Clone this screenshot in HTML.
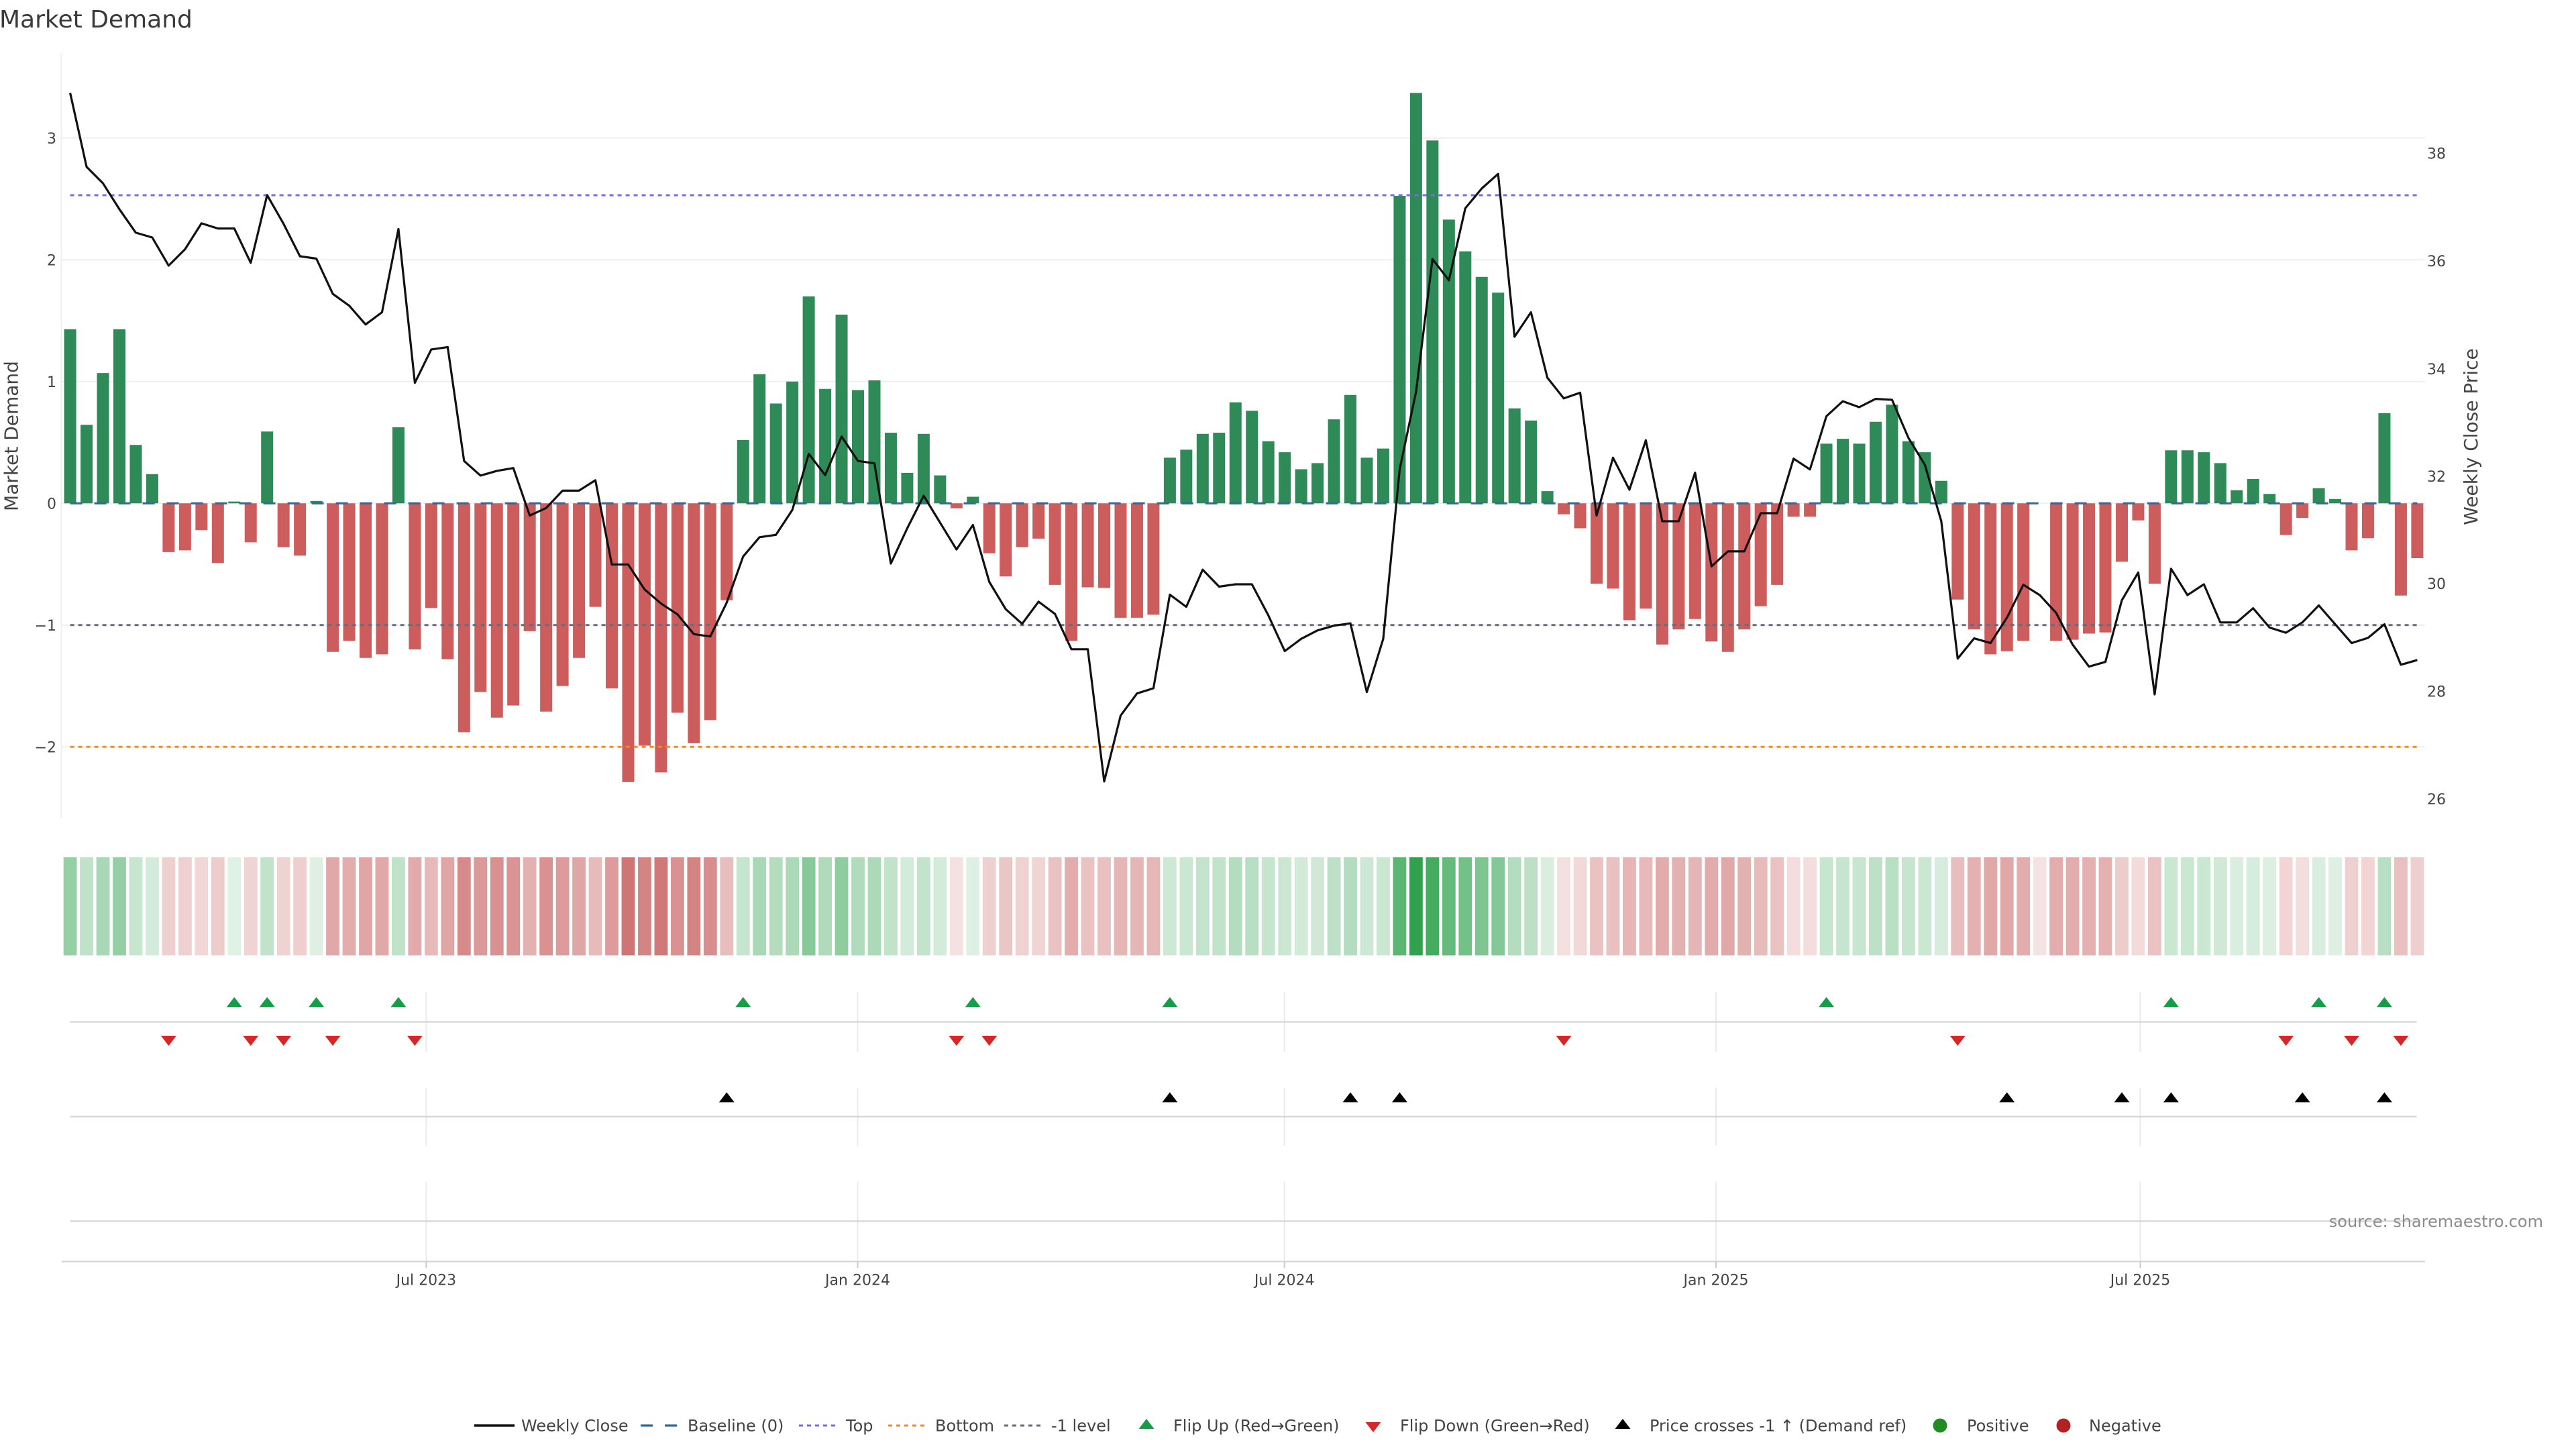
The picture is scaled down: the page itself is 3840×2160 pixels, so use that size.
<!DOCTYPE html>
<html>
<head>
<meta charset="utf-8">
<style>
html,body{margin:0;padding:0;background:#fff;}
body{width:3840px;height:2160px;overflow:hidden;position:relative;}
svg{position:absolute;left:0;top:0;}
text{font-family:"DejaVu Sans","Liberation Sans",sans-serif;fill:#444;}
.g{fill:#30a24e;}
.r{fill:#be4242;}
</style>
</head>
<body>
<svg width="3840" height="2160" viewBox="0 0 3840 2160" xmlns="http://www.w3.org/2000/svg">
<rect x="0" y="0" width="3840" height="2160" fill="#fff"/>

<!-- Title -->
<text x="-1" y="41" font-size="36" style="fill:#3a3a3a">Market Demand</text>

<!-- main plot gridlines -->
<g stroke="#edf0f3" stroke-width="2">
<line x1="92" y1="205.8" x2="3615" y2="205.8"/>
<line x1="92" y1="387.3" x2="3615" y2="387.3"/>
<line x1="92" y1="568.8" x2="3615" y2="568.8"/>
<line x1="92" y1="750.3" x2="3615" y2="750.3"/>
<line x1="92" y1="931.8" x2="3615" y2="931.8"/>
<line x1="92" y1="1113.3" x2="3615" y2="1113.3"/>
</g>
<line x1="91.5" y1="79" x2="91.5" y2="1220" stroke="#eceff2" stroke-width="2"/>

<!-- bars -->
<g transform="translate(104.6,0) scale(24.467,1)">
<path fill="#2e8b57" d="M-.368,750.3V490.8h.736V750.3zM.632,750.3V633.2h.736V750.3zM1.632,750.3V556.1h.736V750.3zM2.632,750.3V490.8h.736V750.3zM3.632,750.3V663.2h.736V750.3zM4.632,750.3V706.7h.736V750.3zM9.632,750.3V747.6h.736V750.3zM11.632,750.3V643.2h.736V750.3zM14.632,750.3V746.7h.736V750.3zM19.632,750.3V636.9h.736V750.3zM40.632,750.3V655.9h.736V750.3zM41.632,750.3V557.9h.736V750.3zM42.632,750.3V601.5h.736V750.3zM43.632,750.3V568.8h.736V750.3zM44.632,750.3V441.7h.736V750.3zM45.632,750.3V579.7h.736V750.3zM46.632,750.3V469h.736V750.3zM47.632,750.3V581.5h.736V750.3zM48.632,750.3V567h.736V750.3zM49.632,750.3V645h.736V750.3zM50.632,750.3V704.9h.736V750.3zM51.632,750.3V646.8h.736V750.3zM52.632,750.3V708.6h.736V750.3zM54.632,750.3V740.5h.736V750.3zM66.632,750.3V682.2h.736V750.3zM67.632,750.3V670.4h.736V750.3zM68.632,750.3V646.8h.736V750.3zM69.632,750.3V645h.736V750.3zM70.632,750.3V599.7h.736V750.3zM71.632,750.3V612.4h.736V750.3zM72.632,750.3V657.7h.736V750.3zM73.632,750.3V674.1h.736V750.3zM74.632,750.3V699.5h.736V750.3zM75.632,750.3V690.4h.736V750.3zM76.632,750.3V625.1h.736V750.3zM77.632,750.3V588.8h.736V750.3zM78.632,750.3V682.2h.736V750.3zM79.632,750.3V668.6h.736V750.3zM80.632,750.3V292h.736V750.3zM81.632,750.3V138.6h.736V750.3zM82.632,750.3V209.4h.736V750.3zM83.632,750.3V327.4h.736V750.3zM84.632,750.3V374.6h.736V750.3zM85.632,750.3V412.7h.736V750.3zM86.632,750.3V436.3h.736V750.3zM87.632,750.3V608.7h.736V750.3zM88.632,750.3V626.9h.736V750.3zM89.632,750.3V732.1h.736V750.3zM106.632,750.3V661.4h.736V750.3zM107.632,750.3V654.1h.736V750.3zM108.632,750.3V661.4h.736V750.3zM109.632,750.3V628.7h.736V750.3zM110.632,750.3V603.3h.736V750.3zM111.632,750.3V657.7h.736V750.3zM112.632,750.3V674.1h.736V750.3zM113.632,750.3V716.7h.736V750.3zM127.632,750.3V671.2h.736V750.3zM128.632,750.3V671.2h.736V750.3zM129.632,750.3V674.1h.736V750.3zM130.632,750.3V690.4h.736V750.3zM131.632,750.3V730.7h.736V750.3zM132.632,750.3V714h.736V750.3zM133.632,750.3V736.3h.736V750.3zM136.632,750.3V727.8h.736V750.3zM137.632,750.3V743.9h.736V750.3zM140.632,750.3V616h.736V750.3z"/>
<path fill="#cd5c5c" d="M5.632,750.3V822.9h.736V750.3zM6.632,750.3V820.4h.736V750.3zM7.632,750.3V790.2h.736V750.3zM8.632,750.3V839.2h.736V750.3zM10.632,750.3V808.4h.736V750.3zM12.632,750.3V815.6h.736V750.3zM13.632,750.3V828.3h.736V750.3zM15.632,750.3V971.7h.736V750.3zM16.632,750.3V955.4h.736V750.3zM17.632,750.3V980.8h.736V750.3zM18.632,750.3V975.4h.736V750.3zM20.632,750.3V968.1h.736V750.3zM21.632,750.3V906.4h.736V750.3zM22.632,750.3V982.6h.736V750.3zM23.632,750.3V1091.5h.736V750.3zM24.632,750.3V1031.6h.736V750.3zM25.632,750.3V1069.7h.736V750.3zM26.632,750.3V1051.6h.736V750.3zM27.632,750.3V940.9h.736V750.3zM28.632,750.3V1060.7h.736V750.3zM29.632,750.3V1022.6h.736V750.3zM30.632,750.3V980.8h.736V750.3zM31.632,750.3V904.6h.736V750.3zM32.632,750.3V1026.2h.736V750.3zM33.632,750.3V1165.9h.736V750.3zM34.632,750.3V1111.5h.736V750.3zM35.632,750.3V1151.4h.736V750.3zM36.632,750.3V1062.5h.736V750.3zM37.632,750.3V1107.9h.736V750.3zM38.632,750.3V1073.4h.736V750.3zM39.632,750.3V894.6h.736V750.3zM53.632,750.3V757.6h.736V750.3zM55.632,750.3V824.7h.736V750.3zM56.632,750.3V859.2h.736V750.3zM57.632,750.3V815.6h.736V750.3zM58.632,750.3V802.9h.736V750.3zM59.632,750.3V871.9h.736V750.3zM60.632,750.3V955.4h.736V750.3zM61.632,750.3V875.5h.736V750.3zM62.632,750.3V876.4h.736V750.3zM63.632,750.3V920.9h.736V750.3zM64.632,750.3V920.9h.736V750.3zM65.632,750.3V916.4h.736V750.3zM90.632,750.3V766.6h.736V750.3zM91.632,750.3V787.5h.736V750.3zM92.632,750.3V870.1h.736V750.3zM93.632,750.3V877.4h.736V750.3zM94.632,750.3V924.5h.736V750.3zM95.632,750.3V907.3h.736V750.3zM96.632,750.3V960.8h.736V750.3zM97.632,750.3V938.2h.736V750.3zM98.632,750.3V922.7h.736V750.3zM99.632,750.3V956.3h.736V750.3zM100.632,750.3V971.7h.736V750.3zM101.632,750.3V938.2h.736V750.3zM102.632,750.3V903.7h.736V750.3zM103.632,750.3V871.9h.736V750.3zM104.632,750.3V770.3h.736V750.3zM105.632,750.3V770.3h.736V750.3zM114.632,750.3V893.7h.736V750.3zM115.632,750.3V938.2h.736V750.3zM116.632,750.3V975.4h.736V750.3zM117.632,750.3V970.8h.736V750.3zM118.632,750.3V955.4h.736V750.3zM120.632,750.3V955.4h.736V750.3zM121.632,750.3V953.6h.736V750.3zM122.632,750.3V944.5h.736V750.3zM123.632,750.3V942.7h.736V750.3zM124.632,750.3V837.4h.736V750.3zM125.632,750.3V775.7h.736V750.3zM126.632,750.3V870.1h.736V750.3zM134.632,750.3V797.5h.736V750.3zM135.632,750.3V772.1h.736V750.3zM138.632,750.3V820.4h.736V750.3zM139.632,750.3V802.2h.736V750.3zM141.632,750.3V887.7h.736V750.3zM142.632,750.3V832h.736V750.3z"/>
</g>

<!-- horizontal reference lines -->
<line x1="104.6" y1="750.3" x2="3603.4" y2="750.3" stroke="#2c6aa0" stroke-width="3.2" stroke-dasharray="18 18"/>
<line x1="104.6" y1="291" x2="3603.4" y2="291" stroke="#7b68ee" stroke-width="3" stroke-dasharray="6 6"/>
<line x1="104.6" y1="1113.3" x2="3603.4" y2="1113.3" stroke="#f28a2a" stroke-width="3" stroke-dasharray="6 6"/>
<line x1="104.6" y1="931.8" x2="3603.4" y2="931.8" stroke="#6a6a7a" stroke-width="3" stroke-dasharray="6 6"/>

<!-- price line -->
<g transform="translate(104.6,0) scale(24.467,1)">
<polyline fill="none" stroke="#111" stroke-width="3.2" stroke-linejoin="round" vector-effect="non-scaling-stroke" points="0,138.6 1,248.7 2,273.3 3,311.9 4,346.9 5,354 6,396 7,371.5 8,332.9 9,340.6 10,340.6 11,391.8 12,290.8 13,333.6 14,382 15,385.5 16,438.1 17,455.7 18,483.7 19,465.5 20,341.3 21,570.7 22,520.9 23,517.4 24,687.2 25,708.9 26,701.9 27,697.7 28,768.5 29,757.3 30,731.4 31,731.4 32,715.9 33,841.5 34,841.5 35,878.7 36,899.7 37,915.8 38,945.3 39,948.8 40,898.3 41,829.6 42,800.8 43,797.3 44,760.1 45,676.6 46,708.2 47,650.7 48,687.2 49,690.7 50,840.1 51,787.5 52,739.1 53,779.1 54,819.1 55,782.6 56,867.5 57,908.1 58,929.9 59,896.9 60,915.2 61,967.8 62,967.8 63,1164.9 64,1066.7 65,1033.7 66,1026 67,886.4 68,904.6 69,849.2 70,874.5 71,871 72,871 73,917.3 74,970.6 75,952.3 76,939.7 77,932.7 78,929.2 79,1031.6 80,952.3 81,699.8 82,584 83,386.2 84,417.8 85,310.5 86,281 87,259.2 88,502 89,465.5 90,563 91,593.9 92,585.4 93,768.5 94,682.3 95,730 96,656.3 97,777 98,777 99,704.7 100,844.3 101,821.9 102,821.9 103,765 104,765 105,683.7 106,699.8 107,620.5 108,598.1 109,607 110,594.6 111,596 112,652.8 113,692.8 114,777 115,981.8 116,951.6 117,958.6 118,920.8 119,871.7 120,887.1 121,913.7 122,960.8 123,993.7 124,986.7 125,894.8 126,853.4 127,1035.1 128,847.8 129,887.1 130,871 131,927.8 132,927.8 133,906.7 134,935.5 135,943.2 136,927.8 137,902.5 138,930.6 139,958.6 140,950.9 141,930.6 142,990.9 143,983.9"/>
</g>

<!-- left axis ticks -->
<g font-size="22" text-anchor="end">
<text x="84" y="213.8">3</text>
<text x="84" y="395.3">2</text>
<text x="84" y="576.8">1</text>
<text x="84" y="758.3">0</text>
<text x="84" y="939.8">−1</text>
<text x="84" y="1121.3">−2</text>
</g>
<!-- right axis ticks -->
<g font-size="22" text-anchor="start">
<text x="3618" y="236.5">38</text>
<text x="3618" y="397">36</text>
<text x="3618" y="558">34</text>
<text x="3618" y="718">32</text>
<text x="3618" y="878">30</text>
<text x="3618" y="1038.6">28</text>
<text x="3618" y="1199">26</text>
</g>
<text transform="translate(26.5,650) rotate(-90)" font-size="28" text-anchor="middle">Market Demand</text>
<text transform="translate(3693,651) rotate(-90)" font-size="28" text-anchor="middle">Weekly Close Price</text>

<!-- heatmap strip -->
<g transform="translate(104.6,0) scale(24.467,1)">
<rect x="-.405" y="1278" width=".81" height="146.3" class="g" fill-opacity=".51"/>
<rect x=".595" y="1278" width=".81" height="146.3" class="g" fill-opacity=".31"/>
<rect x="1.595" y="1278" width=".81" height="146.3" class="g" fill-opacity=".42"/>
<rect x="2.595" y="1278" width=".81" height="146.3" class="g" fill-opacity=".51"/>
<rect x="3.595" y="1278" width=".81" height="146.3" class="g" fill-opacity=".27"/>
<rect x="4.595" y="1278" width=".81" height="146.3" class="g" fill-opacity=".21"/>
<rect x="5.595" y="1278" width=".81" height="146.3" class="r" fill-opacity=".25"/>
<rect x="6.595" y="1278" width=".81" height="146.3" class="r" fill-opacity=".25"/>
<rect x="7.595" y="1278" width=".81" height="146.3" class="r" fill-opacity=".21"/>
<rect x="8.595" y="1278" width=".81" height="146.3" class="r" fill-opacity=".27"/>
<rect x="9.595" y="1278" width=".81" height="146.3" class="g" fill-opacity=".15"/>
<rect x="10.595" y="1278" width=".81" height="146.3" class="r" fill-opacity=".23"/>
<rect x="11.595" y="1278" width=".81" height="146.3" class="g" fill-opacity=".30"/>
<rect x="12.595" y="1278" width=".81" height="146.3" class="r" fill-opacity=".24"/>
<rect x="13.595" y="1278" width=".81" height="146.3" class="r" fill-opacity=".26"/>
<rect x="14.595" y="1278" width=".81" height="146.3" class="g" fill-opacity=".155"/>
<rect x="15.595" y="1278" width=".81" height="146.3" class="r" fill-opacity=".46"/>
<rect x="16.595" y="1278" width=".81" height="146.3" class="r" fill-opacity=".43"/>
<rect x="17.595" y="1278" width=".81" height="146.3" class="r" fill-opacity=".47"/>
<rect x="18.595" y="1278" width=".81" height="146.3" class="r" fill-opacity=".46"/>
<rect x="19.595" y="1278" width=".81" height="146.3" class="g" fill-opacity=".31"/>
<rect x="20.595" y="1278" width=".81" height="146.3" class="r" fill-opacity=".45"/>
<rect x="21.595" y="1278" width=".81" height="146.3" class="r" fill-opacity=".37"/>
<rect x="22.595" y="1278" width=".81" height="146.3" class="r" fill-opacity=".47"/>
<rect x="23.595" y="1278" width=".81" height="146.3" class="r" fill-opacity=".62"/>
<rect x="24.595" y="1278" width=".81" height="146.3" class="r" fill-opacity=".54"/>
<rect x="25.595" y="1278" width=".81" height="146.3" class="r" fill-opacity=".59"/>
<rect x="26.595" y="1278" width=".81" height="146.3" class="r" fill-opacity=".57"/>
<rect x="27.595" y="1278" width=".81" height="146.3" class="r" fill-opacity=".41"/>
<rect x="28.595" y="1278" width=".81" height="146.3" class="r" fill-opacity=".58"/>
<rect x="29.595" y="1278" width=".81" height="146.3" class="r" fill-opacity=".53"/>
<rect x="30.595" y="1278" width=".81" height="146.3" class="r" fill-opacity=".47"/>
<rect x="31.595" y="1278" width=".81" height="146.3" class="r" fill-opacity=".36"/>
<rect x="32.595" y="1278" width=".81" height="146.3" class="r" fill-opacity=".53"/>
<rect x="33.595" y="1278" width=".81" height="146.3" class="r" fill-opacity=".73"/>
<rect x="34.595" y="1278" width=".81" height="146.3" class="r" fill-opacity=".65"/>
<rect x="35.595" y="1278" width=".81" height="146.3" class="r" fill-opacity=".71"/>
<rect x="36.595" y="1278" width=".81" height="146.3" class="r" fill-opacity=".58"/>
<rect x="37.595" y="1278" width=".81" height="146.3" class="r" fill-opacity=".65"/>
<rect x="38.595" y="1278" width=".81" height="146.3" class="r" fill-opacity=".60"/>
<rect x="39.595" y="1278" width=".81" height="146.3" class="r" fill-opacity=".35"/>
<rect x="40.595" y="1278" width=".81" height="146.3" class="g" fill-opacity=".28"/>
<rect x="41.595" y="1278" width=".81" height="146.3" class="g" fill-opacity=".42"/>
<rect x="42.595" y="1278" width=".81" height="146.3" class="g" fill-opacity=".36"/>
<rect x="43.595" y="1278" width=".81" height="146.3" class="g" fill-opacity=".40"/>
<rect x="44.595" y="1278" width=".81" height="146.3" class="g" fill-opacity=".58"/>
<rect x="45.595" y="1278" width=".81" height="146.3" class="g" fill-opacity=".39"/>
<rect x="46.595" y="1278" width=".81" height="146.3" class="g" fill-opacity=".54"/>
<rect x="47.595" y="1278" width=".81" height="146.3" class="g" fill-opacity=".38"/>
<rect x="48.595" y="1278" width=".81" height="146.3" class="g" fill-opacity=".40"/>
<rect x="49.595" y="1278" width=".81" height="146.3" class="g" fill-opacity=".30"/>
<rect x="50.595" y="1278" width=".81" height="146.3" class="g" fill-opacity=".21"/>
<rect x="51.595" y="1278" width=".81" height="146.3" class="g" fill-opacity=".29"/>
<rect x="52.595" y="1278" width=".81" height="146.3" class="g" fill-opacity=".21"/>
<rect x="53.595" y="1278" width=".81" height="146.3" class="r" fill-opacity=".16"/>
<rect x="54.595" y="1278" width=".81" height="146.3" class="g" fill-opacity=".16"/>
<rect x="55.595" y="1278" width=".81" height="146.3" class="r" fill-opacity=".25"/>
<rect x="56.595" y="1278" width=".81" height="146.3" class="r" fill-opacity=".30"/>
<rect x="57.595" y="1278" width=".81" height="146.3" class="r" fill-opacity=".24"/>
<rect x="58.595" y="1278" width=".81" height="146.3" class="r" fill-opacity=".22"/>
<rect x="59.595" y="1278" width=".81" height="146.3" class="r" fill-opacity=".32"/>
<rect x="60.595" y="1278" width=".81" height="146.3" class="r" fill-opacity=".43"/>
<rect x="61.595" y="1278" width=".81" height="146.3" class="r" fill-opacity=".32"/>
<rect x="62.595" y="1278" width=".81" height="146.3" class="r" fill-opacity=".33"/>
<rect x="63.595" y="1278" width=".81" height="146.3" class="r" fill-opacity=".39"/>
<rect x="64.595" y="1278" width=".81" height="146.3" class="r" fill-opacity=".39"/>
<rect x="65.595" y="1278" width=".81" height="146.3" class="r" fill-opacity=".38"/>
<rect x="66.595" y="1278" width=".81" height="146.3" class="g" fill-opacity=".24"/>
<rect x="67.595" y="1278" width=".81" height="146.3" class="g" fill-opacity=".26"/>
<rect x="68.595" y="1278" width=".81" height="146.3" class="g" fill-opacity=".29"/>
<rect x="69.595" y="1278" width=".81" height="146.3" class="g" fill-opacity=".30"/>
<rect x="70.595" y="1278" width=".81" height="146.3" class="g" fill-opacity=".36"/>
<rect x="71.595" y="1278" width=".81" height="146.3" class="g" fill-opacity=".34"/>
<rect x="72.595" y="1278" width=".81" height="146.3" class="g" fill-opacity=".28"/>
<rect x="73.595" y="1278" width=".81" height="146.3" class="g" fill-opacity=".26"/>
<rect x="74.595" y="1278" width=".81" height="146.3" class="g" fill-opacity=".22"/>
<rect x="75.595" y="1278" width=".81" height="146.3" class="g" fill-opacity=".23"/>
<rect x="76.595" y="1278" width=".81" height="146.3" class="g" fill-opacity=".32"/>
<rect x="77.595" y="1278" width=".81" height="146.3" class="g" fill-opacity=".37"/>
<rect x="78.595" y="1278" width=".81" height="146.3" class="g" fill-opacity=".24"/>
<rect x="79.595" y="1278" width=".81" height="146.3" class="g" fill-opacity=".26"/>
<rect x="80.595" y="1278" width=".81" height="146.3" class="g" fill-opacity=".79"/>
<rect x="81.595" y="1278" width=".81" height="146.3" class="g" fill-opacity="1"/>
<rect x="82.595" y="1278" width=".81" height="146.3" class="g" fill-opacity=".90"/>
<rect x="83.595" y="1278" width=".81" height="146.3" class="g" fill-opacity=".74"/>
<rect x="84.595" y="1278" width=".81" height="146.3" class="g" fill-opacity=".67"/>
<rect x="85.595" y="1278" width=".81" height="146.3" class="g" fill-opacity=".62"/>
<rect x="86.595" y="1278" width=".81" height="146.3" class="g" fill-opacity=".59"/>
<rect x="87.595" y="1278" width=".81" height="146.3" class="g" fill-opacity=".36"/>
<rect x="88.595" y="1278" width=".81" height="146.3" class="g" fill-opacity=".33"/>
<rect x="89.595" y="1278" width=".81" height="146.3" class="g" fill-opacity=".18"/>
<rect x="90.595" y="1278" width=".81" height="146.3" class="r" fill-opacity=".17"/>
<rect x="91.595" y="1278" width=".81" height="146.3" class="r" fill-opacity=".20"/>
<rect x="92.595" y="1278" width=".81" height="146.3" class="r" fill-opacity=".32"/>
<rect x="93.595" y="1278" width=".81" height="146.3" class="r" fill-opacity=".33"/>
<rect x="94.595" y="1278" width=".81" height="146.3" class="r" fill-opacity=".39"/>
<rect x="95.595" y="1278" width=".81" height="146.3" class="r" fill-opacity=".37"/>
<rect x="96.595" y="1278" width=".81" height="146.3" class="r" fill-opacity=".44"/>
<rect x="97.595" y="1278" width=".81" height="146.3" class="r" fill-opacity=".41"/>
<rect x="98.595" y="1278" width=".81" height="146.3" class="r" fill-opacity=".39"/>
<rect x="99.595" y="1278" width=".81" height="146.3" class="r" fill-opacity=".44"/>
<rect x="100.595" y="1278" width=".81" height="146.3" class="r" fill-opacity=".46"/>
<rect x="101.595" y="1278" width=".81" height="146.3" class="r" fill-opacity=".41"/>
<rect x="102.595" y="1278" width=".81" height="146.3" class="r" fill-opacity=".36"/>
<rect x="103.595" y="1278" width=".81" height="146.3" class="r" fill-opacity=".32"/>
<rect x="104.595" y="1278" width=".81" height="146.3" class="r" fill-opacity=".18"/>
<rect x="105.595" y="1278" width=".81" height="146.3" class="r" fill-opacity=".18"/>
<rect x="106.595" y="1278" width=".81" height="146.3" class="g" fill-opacity=".27"/>
<rect x="107.595" y="1278" width=".81" height="146.3" class="g" fill-opacity=".28"/>
<rect x="108.595" y="1278" width=".81" height="146.3" class="g" fill-opacity=".27"/>
<rect x="109.595" y="1278" width=".81" height="146.3" class="g" fill-opacity=".32"/>
<rect x="110.595" y="1278" width=".81" height="146.3" class="g" fill-opacity=".35"/>
<rect x="111.595" y="1278" width=".81" height="146.3" class="g" fill-opacity=".28"/>
<rect x="112.595" y="1278" width=".81" height="146.3" class="g" fill-opacity=".26"/>
<rect x="113.595" y="1278" width=".81" height="146.3" class="g" fill-opacity=".20"/>
<rect x="114.595" y="1278" width=".81" height="146.3" class="r" fill-opacity=".35"/>
<rect x="115.595" y="1278" width=".81" height="146.3" class="r" fill-opacity=".41"/>
<rect x="116.595" y="1278" width=".81" height="146.3" class="r" fill-opacity=".46"/>
<rect x="117.595" y="1278" width=".81" height="146.3" class="r" fill-opacity=".46"/>
<rect x="118.595" y="1278" width=".81" height="146.3" class="r" fill-opacity=".43"/>
<rect x="119.595" y="1278" width=".81" height="146.3" class="r" fill-opacity=".15"/>
<rect x="120.595" y="1278" width=".81" height="146.3" class="r" fill-opacity=".43"/>
<rect x="121.595" y="1278" width=".81" height="146.3" class="r" fill-opacity=".43"/>
<rect x="122.595" y="1278" width=".81" height="146.3" class="r" fill-opacity=".42"/>
<rect x="123.595" y="1278" width=".81" height="146.3" class="r" fill-opacity=".42"/>
<rect x="124.595" y="1278" width=".81" height="146.3" class="r" fill-opacity=".27"/>
<rect x="125.595" y="1278" width=".81" height="146.3" class="r" fill-opacity=".19"/>
<rect x="126.595" y="1278" width=".81" height="146.3" class="r" fill-opacity=".32"/>
<rect x="127.595" y="1278" width=".81" height="146.3" class="g" fill-opacity=".26"/>
<rect x="128.595" y="1278" width=".81" height="146.3" class="g" fill-opacity=".26"/>
<rect x="129.595" y="1278" width=".81" height="146.3" class="g" fill-opacity=".26"/>
<rect x="130.595" y="1278" width=".81" height="146.3" class="g" fill-opacity=".23"/>
<rect x="131.595" y="1278" width=".81" height="146.3" class="g" fill-opacity=".18"/>
<rect x="132.595" y="1278" width=".81" height="146.3" class="g" fill-opacity=".20"/>
<rect x="133.595" y="1278" width=".81" height="146.3" class="g" fill-opacity=".17"/>
<rect x="134.595" y="1278" width=".81" height="146.3" class="r" fill-opacity=".22"/>
<rect x="135.595" y="1278" width=".81" height="146.3" class="r" fill-opacity=".18"/>
<rect x="136.595" y="1278" width=".81" height="146.3" class="g" fill-opacity=".18"/>
<rect x="137.595" y="1278" width=".81" height="146.3" class="g" fill-opacity=".16"/>
<rect x="138.595" y="1278" width=".81" height="146.3" class="r" fill-opacity=".25"/>
<rect x="139.595" y="1278" width=".81" height="146.3" class="r" fill-opacity=".22"/>
<rect x="140.595" y="1278" width=".81" height="146.3" class="g" fill-opacity=".34"/>
<rect x="141.595" y="1278" width=".81" height="146.3" class="r" fill-opacity=".34"/>
<rect x="142.595" y="1278" width=".81" height="146.3" class="r" fill-opacity=".26"/>
</g>

<!-- lower subplots: vertical gridlines -->
<g stroke="#e8eaed" stroke-width="2">
<path d="M635.4,1478.8V1568M1278.5,1478.8V1568M1914.7,1478.8V1568M2558,1478.8V1568M3190.5,1478.8V1568"/>
<path d="M635.4,1621.6V1707.8M1278.5,1621.6V1707.8M1914.7,1621.6V1707.8M2558,1621.6V1707.8M3190.5,1621.6V1707.8"/>
<path d="M635.4,1762V1880.5M1278.5,1762V1880.5M1914.7,1762V1880.5M2558,1762V1880.5M3190.5,1762V1880.5"/>
</g>
<!-- lower subplots: horizontal lines -->
<g stroke="#d2d5d9" stroke-width="2.2">
<line x1="104.2" y1="1523.4" x2="3602.5" y2="1523.4"/>
<line x1="104.2" y1="1664.5" x2="3602.5" y2="1664.5"/>
<line x1="104.2" y1="1820.3" x2="3602.5" y2="1820.3"/>
<line x1="92" y1="1880.5" x2="3615" y2="1880.5"/>
</g>
<path stroke="#c8ccd0" stroke-width="2" d="M635.4,1880.5V1890M1278.5,1880.5V1890M1914.7,1880.5V1890M2558,1880.5V1890M3190.5,1880.5V1890"/>

<!-- flip markers -->
<path fill="#179c47" d="M337.77,1501.3h23l-11.5,-15zM386.7,1501.3h23l-11.5,-15zM460.1,1501.3h23l-11.5,-15zM582.44,1501.3h23l-11.5,-15zM1096.25,1501.3h23l-11.5,-15zM1438.79,1501.3h23l-11.5,-15zM1732.39,1501.3h23l-11.5,-15zM2711.07,1501.3h23l-11.5,-15zM3224.88,1501.3h23l-11.5,-15zM3445.08,1501.3h23l-11.5,-15zM3542.95,1501.3h23l-11.5,-15z"/>
<path fill="#d62728" d="M239.9,1544h23l-11.5,15zM362.24,1544h23l-11.5,15zM411.17,1544h23l-11.5,15zM484.57,1544h23l-11.5,15zM606.91,1544h23l-11.5,15zM1414.32,1544h23l-11.5,15zM1463.25,1544h23l-11.5,15zM2319.6,1544h23l-11.5,15zM2906.81,1544h23l-11.5,15zM3396.15,1544h23l-11.5,15zM3494.01,1544h23l-11.5,15zM3567.41,1544h23l-11.5,15z"/>
<path fill="#000" d="M1071.78,1643.3h23l-11.5,-15zM1732.39,1643.3h23l-11.5,-15zM2001.53,1643.3h23l-11.5,-15zM2074.93,1643.3h23l-11.5,-15zM2980.21,1643.3h23l-11.5,-15zM3151.48,1643.3h23l-11.5,-15zM3224.88,1643.3h23l-11.5,-15zM3420.61,1643.3h23l-11.5,-15zM3542.95,1643.3h23l-11.5,-15z"/>

<!-- x tick labels -->
<g font-size="22" text-anchor="middle">
<text x="635.4" y="1915.5">Jul 2023</text>
<text x="1278.5" y="1915.5">Jan 2024</text>
<text x="1914.7" y="1915.5">Jul 2024</text>
<text x="2558" y="1915.5">Jan 2025</text>
<text x="3190.5" y="1915.5">Jul 2025</text>
</g>

<!-- source annotation -->
<text x="3791" y="1829" font-size="24" text-anchor="end" style="fill:#8c8c8c">source: sharemaestro.com</text>

<!-- legend -->
<line x1="707" y1="2125" x2="767" y2="2125" stroke="#111" stroke-width="3.5"/>
<line x1="955" y1="2125" x2="1015" y2="2125" stroke="#2c6aa0" stroke-width="3.2" stroke-dasharray="18 18"/>
<line x1="1191" y1="2125" x2="1251" y2="2125" stroke="#7b68ee" stroke-width="3" stroke-dasharray="6 6"/>
<line x1="1324" y1="2125" x2="1384" y2="2125" stroke="#f28a2a" stroke-width="3" stroke-dasharray="6 6"/>
<line x1="1497" y1="2125" x2="1557" y2="2125" stroke="#6a6a7a" stroke-width="3" stroke-dasharray="6 6"/>
<path fill="#179c47" d="M1697.5,2130h23l-11.5,-15z"/>
<path fill="#d62728" d="M2035.5,2120h23l-11.5,15z"/>
<path fill="#000" d="M2407.5,2130h23l-11.5,-15z"/>
<circle cx="2892" cy="2125" r="10.5" fill="#228b22"/>
<circle cx="3076" cy="2125" r="10.5" fill="#b22222"/>
<g font-size="24">
<text x="777" y="2133.5">Weekly Close</text>
<text x="1025" y="2133.5">Baseline (0)</text>
<text x="1261" y="2133.5">Top</text>
<text x="1394" y="2133.5">Bottom</text>
<text x="1567" y="2133.5">-1 level</text>
<text x="1749" y="2133.5">Flip Up (Red→Green)</text>
<text x="2087" y="2133.5">Flip Down (Green→Red)</text>
<text x="2459" y="2133.5">Price crosses -1 ↑ (Demand ref)</text>
<text x="2932" y="2133.5">Positive</text>
<text x="3114" y="2133.5">Negative</text>
</g>
</svg>
</body>
</html>
